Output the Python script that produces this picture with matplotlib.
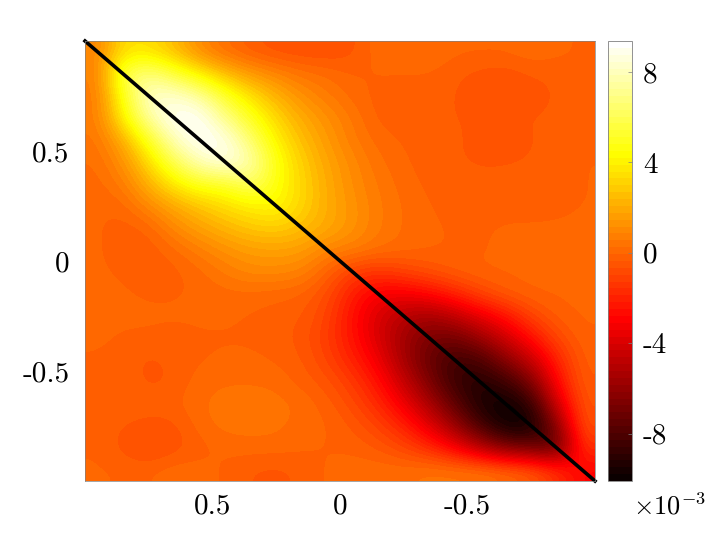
"""Filled field with a diagonal line and a hot colorbar."""

import matplotlib

matplotlib.use("Agg")

import matplotlib.pyplot as plt
import numpy as np
from matplotlib.colors import BoundaryNorm

plt.rcParams["font.family"] = ["cmr10", "DejaVu Sans"]
plt.rcParams["mathtext.fontset"] = "cm"
plt.rcParams["axes.formatter.use_mathtext"] = True

# values in units of 1e-3, top row first, left column first
field_rows = [
    [0.8, 3.5, 3.5, 2.5, 1.0, 0.2, -0.3, -0.6, -0.7, -0.7, -0.5, 0.2, 0.0, 0.25, 0.0, 0.0, 0.0, 0.2, 0.0, -0.1],
    [0.7, 6.0, 7.0, 5.5, 4.0, 2.5, 1.5, 0.9, 0.4, 0.2, -0.1, -0.05, -0.05, -0.05, -0.3, -0.5, -0.6, -0.35, -0.25, -0.05],
    [0.5, 4.8, 8.5, 8.5, 7.5, 5.2, 3.5, 2.2, 1.2, 0.6, 0.1, -0.2, -0.2, -0.25, -0.35, -0.65, -0.7, -0.6, -0.35, -0.05],
    [0.6, 4.0, 7.5, 9.3, 9.4, 7.0, 5.0, 3.2, 2.0, 1.2, 0.5, -0.2, -0.25, -0.3, -0.35, -0.4, -0.4, -0.35, -0.25, -0.05],
    [0.4, 2.0, 5.0, 8.0, 9.4, 9.0, 6.5, 4.0, 2.5, 1.5, 0.6, 0.1, -0.1, -0.3, -0.35, -0.4, -0.5, -0.4, -0.25, -0.1],
    [0.2, 1.2, 3.3, 6.0, 8.0, 9.0, 7.8, 4.7, 3.0, 1.8, 1.0, 0.3, 0.0, -0.25, -0.35, -0.4, -0.4, -0.35, -0.2, -0.05],
    [0.1, 0.6, 2.2, 3.8, 5.0, 5.0, 6.5, 4.6, 3.2, 2.0, 1.1, 0.5, 0.1, -0.15, -0.25, -0.3, -0.25, -0.2, -0.2, -0.05],
    [0.0, 0.0, 1.0, 1.9, 2.7, 3.4, 3.9, 4.3, 3.2, 2.0, 1.3, 0.6, 0.2, -0.05, -0.2, -0.2, -0.2, -0.2, -0.15, -0.05],
    [0.0, -0.25, -0.1, 1.0, 1.7, 2.3, 2.8, 3.0, 2.5, 2.0, 1.3, 0.6, 0.2, 0.0, -0.1, -0.1, 0.0, 0.0, 0.0, 0.0],
    [0.0, -0.25, -0.3, 0.1, 0.7, 1.2, 1.6, 1.7, 1.6, 0.8, 0.7, 0.3, 0.1, 0.0, -0.1, -0.1, 0.0, 0.0, 0.0, 0.0],
    [0.0, -0.1, -0.3, -0.2, 0.1, 0.6, 1.0, 1.0, 0.8, -0.1, -1.2, -1.5, -1.0, -0.6, -0.2, 0.0, 0.0, 0.0, 0.0, 0.0],
    [0.0, 0.0, -0.1, -0.1, 0.0, 0.1, 0.1, 0.0, -0.1, -0.7, -2.2, -3.2, -3.3, -2.8, -2.0, -1.0, -0.3, 0.0, 0.0, 0.0],
    [0.0, 0.0, 0.0, 0.0, 0.0, 0.0, -0.1, -0.2, -0.3, -1.0, -2.6, -4.0, -5.0, -5.5, -4.7, -3.5, -2.5, -1.0, -0.2, 0.0],
    [0.0, -0.1, -0.1, -0.2, -0.1, -0.1, -0.1, -0.2, -0.5, -1.2, -2.5, -4.0, -5.6, -6.8, -7.0, -5.8, -4.2, -2.6, -0.9, -0.1],
    [-0.1, -0.15, -0.5, -0.25, -0.1, 0.0, 0.0, -0.1, -0.3, -1.0, -2.0, -3.3, -5.5, -7.3, -8.5, -8.2, -6.3, -4.5, -2.0, -0.2],
    [-0.05, -0.05, -0.55, -0.3, 0.1, 0.2, 0.2, 0.15, -0.2, -0.5, -1.3, -2.5, -4.5, -6.6, -8.7, -9.3, -8.6, -6.7, -2.8, -0.3],
    [-0.1, 0.0, -0.1, -0.1, 0.2, 0.45, 0.5, 0.4, 0.2, -0.2, -0.8, -1.8, -3.3, -5.3, -7.5, -9.6, -10.0, -9.0, -4.2, -0.5],
    [-0.1, -0.4, -0.6, -0.5, 0.1, 0.4, 0.4, 0.35, 0.1, 0.0, -0.4, -1.0, -2.0, -3.6, -5.8, -8.2, -10.0, -10.0, -6.5, -0.6],
    [-0.1, -0.5, -0.9, -0.6, -0.2, 0.0, 0.1, 0.1, 0.0, -0.1, -0.1, -0.4, -0.9, -1.7, -3.0, -4.8, -6.5, -7.0, -8.0, -1.5],
    [0.0, -0.1, -0.1, 0.2, 0.1, -0.1, -0.4, -0.5, -0.3, 0.0, 0.1, 0.2, 0.2, 0.4, 0.4, 0.4, 0.1, -0.3, -1.5, -3.0],
]
line_x = [1, -1]
line_y = [1, -1]
axis_ticks = [0.5, 0, -0.5]
axis_labels = ["0.5", "0", "-0.5"]
bar_ticks = [8, 4, 0, -4, -8]
bar_labels = ["8", "4", "0", "-4", "-8"]
value_min = -10.1
value_max = 9.37

GRAY = "#808080"

figure = plt.figure(figsize=(7.2, 5.4), dpi=100)
axis = figure.add_axes([85 / 720, 1 - 481 / 540, 510 / 720, 440 / 540])
bar_axis = figure.add_axes([608 / 720, 1 - 481 / 540, 24 / 720, 440 / 540])

levels = np.linspace(value_min, value_max, 65)
image = axis.imshow(
    np.array(field_rows),
    cmap="hot",
    norm=BoundaryNorm(levels, 256),
    extent=(1, -1, -1, 1),
    aspect="auto",
    interpolation="bicubic",
    interpolation_stage="data",
)
axis.plot(line_x, line_y, color="black", linewidth=2.6, clip_on=False)
axis.set_xlim(1, -1)
axis.set_ylim(-1, 1)
axis.set_xticks(axis_ticks, axis_labels)
axis.set_yticks(axis_ticks, axis_labels)
axis.tick_params(axis="x", direction="in", length=0, labelsize=21, pad=9)
axis.tick_params(axis="y", direction="in", length=0, labelsize=21, pad=11)
for spine in axis.spines.values():
    spine.set_color(GRAY)
    spine.set_linewidth(0.5)

colorbar = figure.colorbar(image, cax=bar_axis, spacing="proportional", drawedges=False)
colorbar.set_ticks(bar_ticks, labels=bar_labels)
colorbar.minorticks_off()
bar_axis.tick_params(direction="in", length=3, width=0.5, color=GRAY, labelsize=21, pad=8)
colorbar.outline.set_edgecolor(GRAY)
colorbar.outline.set_linewidth(0.6)

figure.text(669 / 720, 1 - 506 / 540, r"$\times 10^{-3}$", fontsize=19, ha="center", va="center")

figure.savefig("out.png", dpi=100)
